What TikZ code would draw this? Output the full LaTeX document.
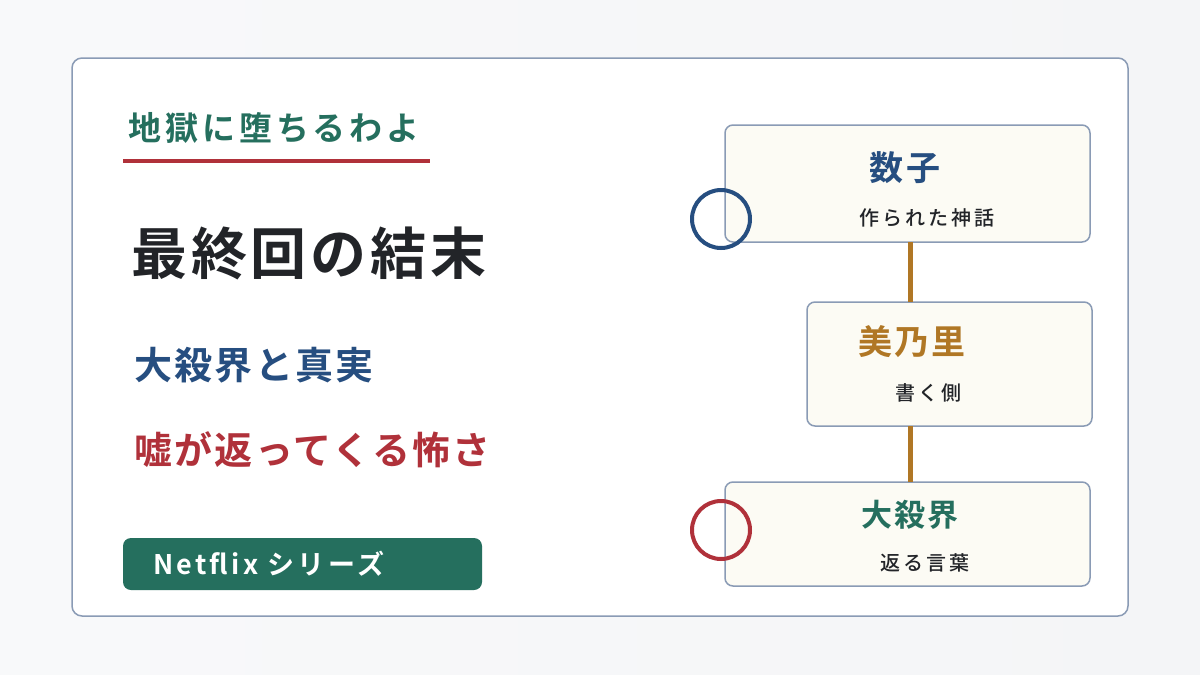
\documentclass[tikz,border=0pt]{standalone}
\usepackage{fontspec}
\setmainfont{Noto Sans CJK JP}
\newfontfamily\jpbA[LetterSpace=12]{Noto Sans CJK JP Bold}
\newfontfamily\jpbB[LetterSpace=7]{Noto Sans CJK JP Bold}
\newfontfamily\jpbC[LetterSpace=6]{Noto Sans CJK JP Bold}
\newfontfamily\jpbD[LetterSpace=8]{Noto Sans CJK JP Bold}
\newfontfamily\jpbE[LetterSpace=12]{Noto Sans CJK JP Bold}
\newfontfamily\jpsm[LetterSpace=15]{Noto Sans CJK JP Medium}
\definecolor{bgc}{HTML}{F4F5F7}
\definecolor{edge}{HTML}{8A9BB5}
\definecolor{grn}{HTML}{256F5E}
\definecolor{redc}{HTML}{B0313A}
\definecolor{blu}{HTML}{264E80}
\definecolor{org}{HTML}{B07725}
\definecolor{ink}{HTML}{222428}
\definecolor{cream}{HTML}{FCFBF4}
\tikzset{
 card/.style={draw=edge,line width=1.5pt,fill=cream,rounded corners=8pt},
 link/.style={draw=org,line width=5pt},
 ring/.style={draw,line width=4pt,circle,minimum size=58pt,inner sep=0pt},
 lbl/.style={inner sep=0pt,anchor=west},
}
\begin{document}
\begin{tikzpicture}[x=1pt,y=-1pt]
\useasboundingbox (0,0) rectangle (1200,675);
\fill[left color=bgc!60!white,right color=bgc] (0,0) rectangle (1200,675);
\draw[draw=edge,line width=1.5pt,fill=white,rounded corners=10pt] (72,58) rectangle (1128,616);
\node[lbl,text=grn,font=\jpbA\fontsize{33}{36}\selectfont] (t1) at (128,128) {地獄に堕ちるわよ};
\draw[redc,line width=4pt] (123,161) -- (430,161);
\node[lbl,text=ink,font=\jpbB\fontsize{56}{60}\selectfont] (t2) at (131,253) {最終回の結末};
\node[lbl,text=blu,font=\jpbC\fontsize{38}{42}\selectfont] (t3) at (134,365) {大殺界と真実};
\node[lbl,text=redc,font=\jpbC\fontsize{38}{42}\selectfont] (t4) at (134,450) {嘘が返ってくる怖さ};
\fill[grn,rounded corners=8pt] (123,538) rectangle (482,590);
\node[lbl,text=white,font=\jpbE\fontsize{27}{30}\selectfont] (tag) at (153,564) {Netflix シリーズ};
\path[card] (725,125) rectangle (1090,242);
\path[card] (807,302) rectangle (1092,426);
\path[card] (725,482) rectangle (1090,586);
\coordinate (a1) at (910,242); \coordinate (a2) at (910,302);
\coordinate (b1) at (910,426); \coordinate (b2) at (910,482);
\draw[link] (a1) -- (a2);
\draw[link] (b1) -- (b2);
\node[ring,draw=blu] (c1) at (721,219) {};
\node[ring,draw=redc] (c2) at (721,530) {};
\node[text=blu,font=\jpbD\fontsize{34}{36}\selectfont] (n1) at (905,168) {数子};
\node[text=ink,font=\jpsm\fontsize{20}{22}\selectfont] (s1) at (927,218) {作られた神話};
\node[text=org,font=\jpbD\fontsize{34}{36}\selectfont] (n2) at (912,342) {美乃里};
\node[text=ink,font=\jpsm\fontsize{20}{22}\selectfont] (s2) at (928,393) {書く側};
\node[text=grn,font=\jpbD\fontsize{31}{34}\selectfont] (n3) at (910,515) {大殺界};
\node[text=ink,font=\jpsm\fontsize{20}{22}\selectfont] (s3) at (925,563) {返る言葉};
\end{tikzpicture}
\end{document}
